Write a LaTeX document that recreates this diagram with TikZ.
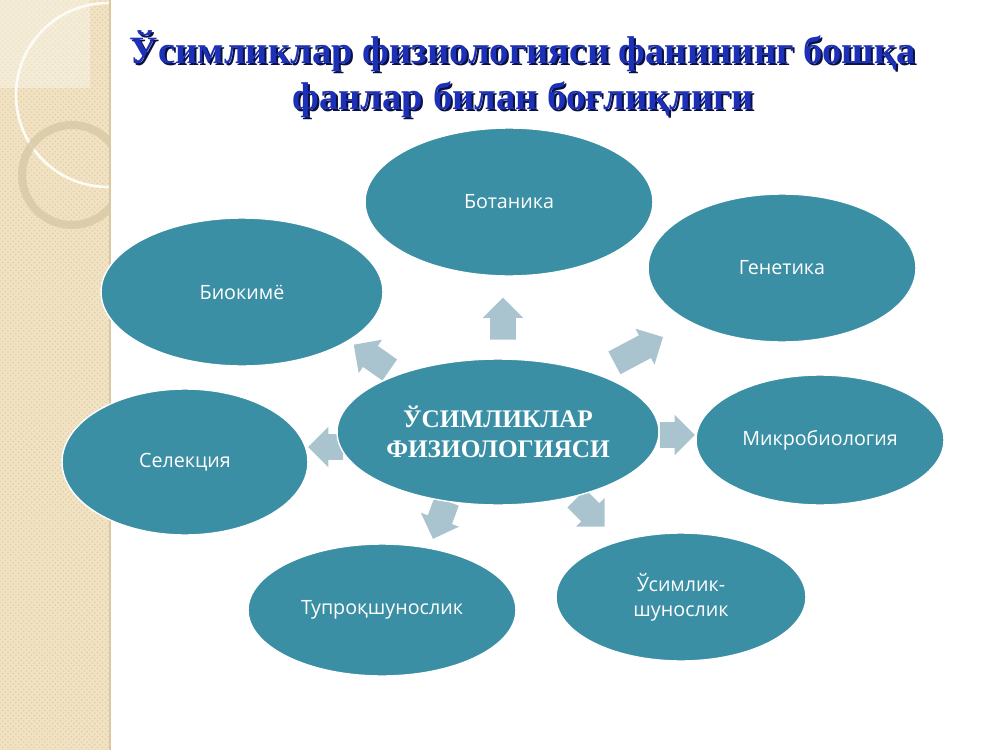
\documentclass[tikz,border=0pt]{standalone}
\usepackage{fontspec}
\setmainfont{Liberation Serif}
\newfontfamily\labelfont{Open Sans}
\usetikzlibrary{shapes.geometric,shapes.arrows,patterns}
\definecolor{topicfill}{HTML}{3A8FA5}
\definecolor{linkfill}{HTML}{AAC4CF}
\definecolor{titleblue}{HTML}{1C30B8}
\definecolor{titledark}{HTML}{0A1040}
\definecolor{stripfill}{HTML}{F0E2C2}
\definecolor{stripdot}{HTML}{E2CFA6}
\definecolor{stripedge}{HTML}{D9C8A0}
\definecolor{ringcol}{HTML}{D8C8A6}

\begin{document}
\begin{tikzpicture}[x=0.02cm,y=-0.02cm
    , topic/.style = {ellipse,fill=topicfill,draw=white,thick,inner sep=0pt,text=white,align=center,font=\labelfont\fontsize{11.2}{14}\selectfont}
    , core/.style = {topic,font=\bfseries\fontsize{14.4}{17}\selectfont}
    , link/.style = {single arrow,fill=linkfill,draw=none,inner xsep=0pt,inner ysep=0.25cm,single arrow head extend=0.15cm}
    , headline/.style = {align=center,font=\bfseries\fontsize{22}{26}\selectfont}
]
\useasboundingbox (0,0) rectangle (1000,750);
% left strip
\fill[stripfill] (0,0) rectangle (110,750);
\fill[pattern=crosshatch dots,pattern color=stripdot] (0,0) rectangle (110,750);
\begin{scope}
\clip (0,0) rectangle (110,750);
\fill[white,opacity=0.35] (0,0) rectangle (90,88);
\draw[white!85!stripfill,line width=1.5pt] (108,95) circle (1.84cm);
\draw[ringcol,line width=0.16cm,opacity=0.8] (72,175) circle (1.0cm);
\end{scope}
\draw[stripedge,line width=1pt] (110,0) -- (110,750);
% title
\node[headline,text=titledark] (titleshadow) at (525,76)
    {Ўсимликлар физиологияси фанининг бошқа\\фанлар билан боғлиқлиги};
\node[headline,text=titleblue] (title) at (523,74)
    {Ўсимликлар физиологияси фанининг бошқа\\фанлар билан боғлиқлиги};
% arrows
\node[link,minimum height=0.84cm,rotate=90] (toBot) at (503,325) {};
\node[link,minimum height=1.1cm,rotate=28] (toGen) at (633,353) {};
\node[link,minimum height=0.7cm,rotate=0] (toMic) at (671,435) {};
\node[link,minimum height=0.8cm,rotate=-45] (toUsi) at (586,508) {};
\node[link,minimum height=0.8cm,rotate=-110] (toTup) at (442,514) {};
\node[link,minimum height=0.7cm,rotate=180] (toSel) at (332,447) {};
\node[link,minimum height=0.88cm,rotate=145] (toBio) at (377,361) {};
% ellipses
\node[topic,minimum width=5.76cm,minimum height=2.96cm] (bot) at (509,202) {Ботаника};
\node[topic,minimum width=5.36cm,minimum height=2.96cm] (gen) at (782,268) {Генетика};
\node[topic,minimum width=5.64cm,minimum height=2.96cm] (bio) at (242,292) {Биокимё};
\node[topic,minimum width=4.92cm,minimum height=2.92cm] (sel) at (185,462) {Селекция};
\node[topic,minimum width=4.96cm,minimum height=2.6cm] (mic) at (820,440) {Микробиология};
\node[topic,minimum width=5.36cm,minimum height=2.64cm] (tup) at (382,610) {Тупроқшунослик};
\node[topic,minimum width=5.0cm,minimum height=2.56cm] (usi) at (681,597) {Ўсимлик-\\шунослик};
\node[core,minimum width=6.44cm,minimum height=2.92cm] (fiz) at (498,432) {ЎСИМЛИКЛАР\\ФИЗИОЛОГИЯСИ};
\end{tikzpicture}
\end{document}
